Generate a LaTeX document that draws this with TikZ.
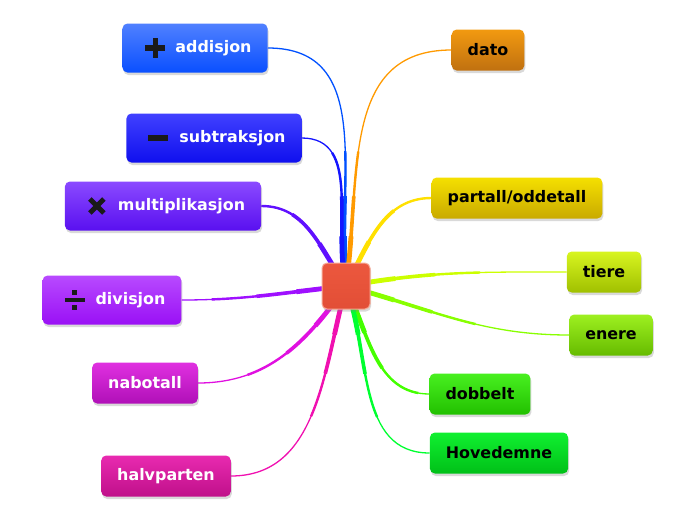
\documentclass[tikz,border=0pt]{standalone}
\usepackage{fontspec}
\setmainfont{DejaVu Sans}
\usepackage{tikz}
\usetikzlibrary{backgrounds,calc,shadows}
\definecolor{iconblack}{RGB}{26,26,26}
\definecolor{hubrim}{RGB}{246,170,150}
\definecolor{hubtop}{RGB}{236,88,62}
\definecolor{hubbot}{RGB}{226,78,54}
\definecolor{addtop}{RGB}{80,128,255}
\definecolor{addbot}{RGB}{10,80,255}
\definecolor{addline}{RGB}{0,80,255}
\definecolor{subtop}{RGB}{64,64,255}
\definecolor{subbot}{RGB}{16,16,238}
\definecolor{subline}{RGB}{21,21,255}
\definecolor{multop}{RGB}{138,74,255}
\definecolor{mulbot}{RGB}{90,16,240}
\definecolor{mulline}{RGB}{96,16,255}
\definecolor{divtop}{RGB}{184,74,255}
\definecolor{divbot}{RGB}{154,16,245}
\definecolor{divline}{RGB}{159,16,255}
\definecolor{nabtop}{RGB}{224,48,224}
\definecolor{nabbot}{RGB}{176,16,184}
\definecolor{nabline}{RGB}{224,16,224}
\definecolor{halvtop}{RGB}{232,42,176}
\definecolor{halvbot}{RGB}{192,16,138}
\definecolor{halvline}{RGB}{240,16,176}
\definecolor{datotop}{RGB}{242,154,16}
\definecolor{datobot}{RGB}{192,112,16}
\definecolor{datoline}{RGB}{255,154,0}
\definecolor{partop}{RGB}{245,224,0}
\definecolor{parbot}{RGB}{201,170,0}
\definecolor{parline}{RGB}{255,224,0}
\definecolor{tiertop}{RGB}{216,245,32}
\definecolor{tierbot}{RGB}{160,192,0}
\definecolor{tierline}{RGB}{204,255,0}
\definecolor{enertop}{RGB}{158,240,32}
\definecolor{enerbot}{RGB}{102,187,0}
\definecolor{enerline}{RGB}{136,255,0}
\definecolor{dobtop}{RGB}{72,240,32}
\definecolor{dobbot}{RGB}{34,192,0}
\definecolor{dobline}{RGB}{68,255,0}
\definecolor{hovtop}{RGB}{16,240,48}
\definecolor{hovbot}{RGB}{0,192,24}
\definecolor{hovline}{RGB}{0,255,48}
\tikzset{
  tint/.style 2 args={top color=#1,bottom color=#2},
  topic/.style={rounded corners=5pt,inner xsep=16pt,minimum height=41pt,
    font=\fontsize{15.9}{18}\selectfont\bfseries,text=black,
    drop shadow={opacity=0.3,shadow xshift=1pt,shadow yshift=-2.5pt}},
  optopic/.style={topic,minimum height=49pt,text=white},
  hub/.style={rounded corners=5pt,draw=hubrim,line width=1pt,
    top color=hubtop,bottom color=hubbot,minimum width=48pt,minimum height=46pt,
    drop shadow={opacity=0.3,shadow xshift=1pt,shadow yshift=-2.5pt}},
  plusmark/.style={path picture={
    \path ([xshift=33pt]path picture bounding box.west) coordinate (ic);
    \fill[iconblack,sharp corners] ($(ic)+(-10pt,-2.6pt)$) rectangle ($(ic)+(10pt,2.6pt)$);
    \fill[iconblack,sharp corners] ($(ic)+(-2.6pt,-10pt)$) rectangle ($(ic)+(2.6pt,10pt)$);}},
  minusmark/.style={path picture={
    \path ([xshift=32pt]path picture bounding box.west) coordinate (ic);
    \fill[iconblack,sharp corners] ($(ic)+(-10pt,-2.6pt)$) rectangle ($(ic)+(10pt,2.6pt)$);}},
  timesmark/.style={path picture={
    \path ([xshift=32pt]path picture bounding box.west) coordinate (ic);
    \draw[iconblack,line width=5pt] ($(ic)+(-7pt,-7pt)$) -- ($(ic)+(7pt,7pt)$);
    \draw[iconblack,line width=5pt] ($(ic)+(-7pt,7pt)$) -- ($(ic)+(7pt,-7pt)$);}},
  dividemark/.style={path picture={
    \path ([xshift=32pt]path picture bounding box.west) coordinate (ic);
    \fill[iconblack,sharp corners] ($(ic)+(-10pt,-2.4pt)$) rectangle ($(ic)+(10pt,2.4pt)$);
    \fill[iconblack,sharp corners] ($(ic)+(-2.6pt,5pt)$) rectangle ($(ic)+(2.6pt,10.2pt)$);
    \fill[iconblack,sharp corners] ($(ic)+(-2.6pt,-10.2pt)$) rectangle ($(ic)+(2.6pt,-5pt)$);}},
  branch/.style={draw=#1,line width=1.3pt,
    preaction={draw=#1,line width=4.8pt,dash pattern=on 50pt off 2000pt},
    preaction={draw=#1,line width=3.6pt,dash pattern=on 90pt off 2000pt},
    preaction={draw=#1,line width=2.4pt,dash pattern=on 135pt off 2000pt}}
}
\begin{document}
\begin{tikzpicture}[x=1pt,y=-1pt]
  \useasboundingbox (0,0) rectangle (696,520);
  \node[hub] (hub) at (346,286) {};
  % left side
  \node[optopic,tint={addtop}{addbot},plusmark] (add) at (195,48)
    {\hspace*{37pt}addisjon};
  \node[optopic,tint={subtop}{subbot},minusmark] (sub) at (214,138)
    {\hspace*{37pt}subtraksjon};
  \node[optopic,tint={multop}{mulbot},timesmark] (mul) at (163,206)
    {\hspace*{37pt}multiplikasjon};
  \node[optopic,tint={divtop}{divbot},dividemark] (div) at (112,300)
    {\hspace*{37pt}divisjon};
  \node[topic,tint={nabtop}{nabbot},text=white] (nabo) at (145,383) {nabotall};
  \node[topic,tint={halvtop}{halvbot},text=white] (halv) at (166,476) {halvparten};
  % right side
  \node[topic,tint={datotop}{datobot}] (dato) at (488,50) {dato};
  \node[topic,tint={partop}{parbot}] (par) at (517,198) {partall/oddetall};
  \node[topic,tint={tiertop}{tierbot}] (tier) at (604,272) {tiere};
  \node[topic,tint={enertop}{enerbot}] (ener) at (611,335) {enere};
  \node[topic,tint={dobtop}{dobbot}] (dob) at (480,394) {dobbelt};
  \node[topic,tint={hovtop}{hovbot}] (hov) at (499,453) {Hovedemne};
  \begin{scope}[on background layer]
    \draw[branch=addline] (hub.center) to[out=95,in=0,looseness=1.1] (add.east);
    \draw[branch=subline] (hub.center) to[out=103,in=0] (sub.east);
    \draw[branch=mulline] (hub.center) to[out=125,in=0] (mul.east);
    \draw[branch=divline] (hub.center) to[out=186,in=0] (div.east);
    \draw[branch=nabline] (hub.center) to[out=235,in=0] (nabo.east);
    \draw[branch=halvline] (hub.center) to[out=255,in=0] (halv.east);
    \draw[branch=datoline] (hub.center) to[out=82,in=180,looseness=1.1] (dato.west);
    \draw[branch=parline] (hub.center) to[out=62,in=180] (par.west);
    \draw[branch=tierline] (hub.center) to[out=10,in=180] (tier.west);
    \draw[branch=enerline] (hub.center) to[out=-15,in=180] (ener.west);
    \draw[branch=dobline] (hub.center) to[out=-65,in=180] (dob.west);
    \draw[branch=hovline] (hub.center) to[out=-70,in=180] (hov.west);
  \end{scope}
\end{tikzpicture}
\end{document}
